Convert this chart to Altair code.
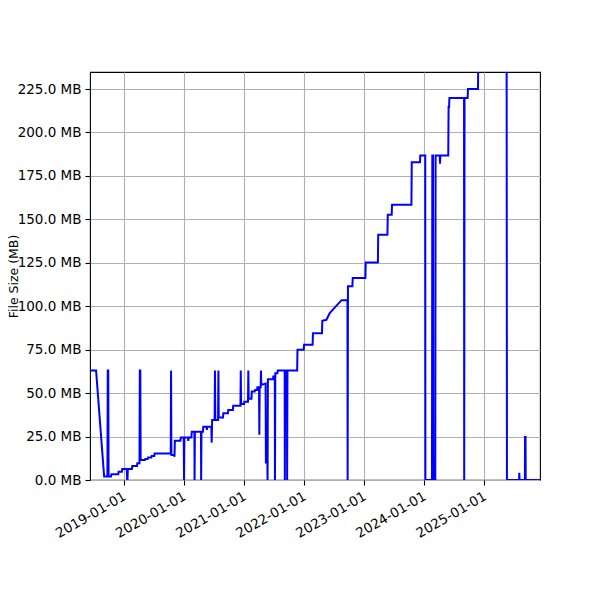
import altair as alt
import pandas as pd

# commit dates and file size (MB)
dates = [
    "2018-06-08", "2018-07-15", "2018-09-02", "2018-09-22", "2018-09-24",
    "2018-09-27", "2018-09-29", "2018-10-14", "2018-10-16", "2018-11-27",
    "2018-11-29", "2018-12-19", "2018-12-21", "2019-01-18", "2019-01-20",
    "2019-01-22", "2019-01-24", "2019-02-18", "2019-02-20", "2019-03-21",
    "2019-03-23", "2019-04-05", "2019-04-07", "2019-04-10", "2019-04-12",
    "2019-05-08", "2019-05-10", "2019-05-25", "2019-05-27", "2019-06-16",
    "2019-06-18", "2019-07-04", "2019-07-06", "2019-10-12", "2019-10-14",
    "2019-10-16", "2019-11-02", "2019-11-04", "2019-11-06", "2019-12-10",
    "2019-12-12", "2019-12-30", "2020-01-01", "2020-01-03", "2020-01-25",
    "2020-01-27", "2020-01-29", "2020-02-15", "2020-02-17", "2020-03-04",
    "2020-03-05", "2020-03-07", "2020-04-13", "2020-04-14", "2020-04-16",
    "2020-04-25", "2020-04-27", "2020-05-17", "2020-05-19", "2020-05-21",
    "2020-06-15", "2020-06-17", "2020-06-20", "2020-07-05", "2020-07-07",
    "2020-07-09", "2020-07-26", "2020-07-28", "2020-07-30", "2020-08-25",
    "2020-08-27", "2020-09-24", "2020-09-26", "2020-10-24", "2020-10-26",
    "2020-12-09", "2020-12-11", "2020-12-13", "2020-12-31", "2021-01-02",
    "2021-01-24", "2021-01-26", "2021-01-28", "2021-02-14", "2021-02-16",
    "2021-03-06", "2021-03-08", "2021-03-20", "2021-03-22", "2021-04-01",
    "2021-04-03", "2021-04-05", "2021-04-11", "2021-04-13", "2021-04-15",
    "2021-05-11", "2021-05-13", "2021-05-22", "2021-05-23", "2021-05-25",
    "2021-06-25", "2021-06-27", "2021-07-06", "2021-07-07", "2021-07-09",
    "2021-07-22", "2021-07-24", "2021-09-04", "2021-09-05", "2021-09-07",
    "2021-09-18", "2021-09-19", "2021-09-21", "2021-11-19", "2021-11-21",
    "2021-12-29", "2021-12-31", "2022-02-21", "2022-02-23", "2022-04-19",
    "2022-04-21", "2022-05-16", "2022-06-05", "2022-08-16", "2022-09-21",
    "2022-09-22", "2022-09-24", "2022-10-21", "2022-10-23", "2023-01-08",
    "2023-01-10", "2023-03-25", "2023-03-27", "2023-05-22", "2023-05-24",
    "2023-06-17", "2023-06-19", "2023-10-15", "2023-10-17", "2023-12-06",
    "2023-12-08", "2024-01-07", "2024-01-08", "2024-02-17", "2024-02-19",
    "2024-02-23", "2024-02-25", "2024-03-08", "2024-03-10", "2024-04-04",
    "2024-04-06", "2024-04-08", "2024-05-26", "2024-05-28", "2024-05-31",
    "2024-06-02", "2024-08-30", "2024-08-31", "2024-09-02", "2024-09-21",
    "2024-09-23", "2024-11-23", "2024-11-25", "2025-05-16", "2025-05-18",
    "2025-07-31", "2025-08-01", "2025-08-03", "2025-09-04", "2025-09-05",
    "2025-09-08", "2025-09-09", "2025-12-05",
]
sizes_mb = [
    63.0, 63.0, 2.0, 2.0, 63.0,
    63.0, 2.0, 2.0, 3.3, 3.3,
    4.8, 4.8, 6.3, 6.3, 0.0,
    0.0, 6.3, 6.3, 8.1, 8.1,
    9.6, 9.6, 63.0, 63.0, 11.5,
    11.5, 12.1, 12.1, 13.0, 13.0,
    13.8, 13.8, 15.2, 15.2, 63.0,
    14.4, 14.4, 13.4, 22.6, 22.6,
    24.4, 24.4, 0.0, 24.4, 24.4,
    22.5, 24.4, 24.4, 27.8, 27.8,
    0.0, 27.8, 27.8, 0.0, 27.8,
    27.8, 30.7, 30.7, 28.8, 30.7,
    30.7, 21.5, 34.6, 34.6, 63.0,
    34.6, 34.6, 63.0, 36.0, 36.0,
    38.4, 38.4, 40.3, 40.3, 42.8,
    42.8, 63.0, 43.8, 43.8, 45.1,
    45.1, 63.0, 46.7, 46.7, 50.9,
    50.9, 51.8, 51.8, 53.4, 53.4,
    26.0, 53.4, 53.4, 63.0, 54.7,
    55.5, 10.0, 10.0, 0.0, 58.0,
    58.0, 59.5, 59.5, 0.0, 61.5,
    61.5, 63.0, 63.0, 0.0, 63.0,
    63.0, 0.0, 63.0, 63.0, 75.0,
    75.0, 77.8, 77.8, 84.5, 84.5,
    91.6, 92.2, 96.0, 103.5, 103.5,
    0.0, 111.5, 111.5, 116.2, 116.2,
    125.2, 125.2, 141.1, 141.1, 152.6,
    152.6, 158.4, 158.4, 182.8, 182.8,
    186.8, 186.8, 0.0, 0.0, 186.8,
    186.8, 0.0, 0.0, 186.8, 186.8,
    182.0, 186.8, 186.8, 214.7, 214.7,
    219.9, 219.9, 0.0, 219.9, 219.9,
    225.0, 225.0, 250.0, 250.0, 0.0,
    0.0, 4.2, 0.0, 0.0, 24.8,
    24.8, 0.0, 0.0,
]
y_ticks = [0, 25, 50, 75, 100, 125, 150, 175, 200, 225]
x_tick_years = [2019, 2020, 2021, 2022, 2023, 2024, 2025]

df = pd.DataFrame({"date": dates, "size": sizes_mb})

font = "DejaVu Sans"

chart = (
    alt.Chart(df)
    .mark_line(color="blue", strokeWidth=2, clip=True)
    .encode(
        x=alt.X(
            "date:T",
            scale=alt.Scale(
                type="utc",
                domain=[
                    alt.DateTime(year=2018, month=6, date=8, utc=True),
                    alt.DateTime(year=2025, month=12, date=5, utc=True),
                ],
            ),
            axis=alt.Axis(
                title=None,
                values=[alt.DateTime(year=y, month=1, date=1, utc=True) for y in x_tick_years],
                format="%Y-%m-%d",
                labelAngle=-30,
                labelAlign="right",
                labelBaseline="top",
                labelPadding=4,
                labelOffset=-3,
                labelOverlap=False,
            ),
        ),
        y=alt.Y(
            "size:Q",
            scale=alt.Scale(domain=[0, 234.8], nice=False, zero=True),
            axis=alt.Axis(
                title="File Size (MB)",
                values=y_ticks,
                labelExpr="format(datum.value, '.1f') + ' MB'",
                labelOverlap=False,
                titleX=-76.5,
                titleY=204,
                titleFontSize=12.5,
                titleBaseline="middle",
                titleAngle=-90,
                titleAnchor="middle",
            ),
        ),
    )
    .properties(
        width=450,
        height=408,
        autosize=alt.AutoSizeParams(type="none"),
        padding={"left": 82, "top": 64, "right": 52, "bottom": 112},
    )
    .configure_view(stroke="black", strokeWidth=1.1)
    .configure_axis(
        labelFont=font,
        titleFont=font,
        labelFontSize=13.5,
        titleFontSize=13.5,
        labelColor="black",
        titleColor="black",
        titleFontWeight="normal",
        domain=False,
        tickColor="black",
        tickSize=5,
        tickWidth=1.1,
        grid=True,
        gridColor="#b0b0b0",
        gridWidth=1.1,
        labelPadding=4,
    )
)

chart.save("out.html", embed_options={"renderer": "svg", "actions": False})
